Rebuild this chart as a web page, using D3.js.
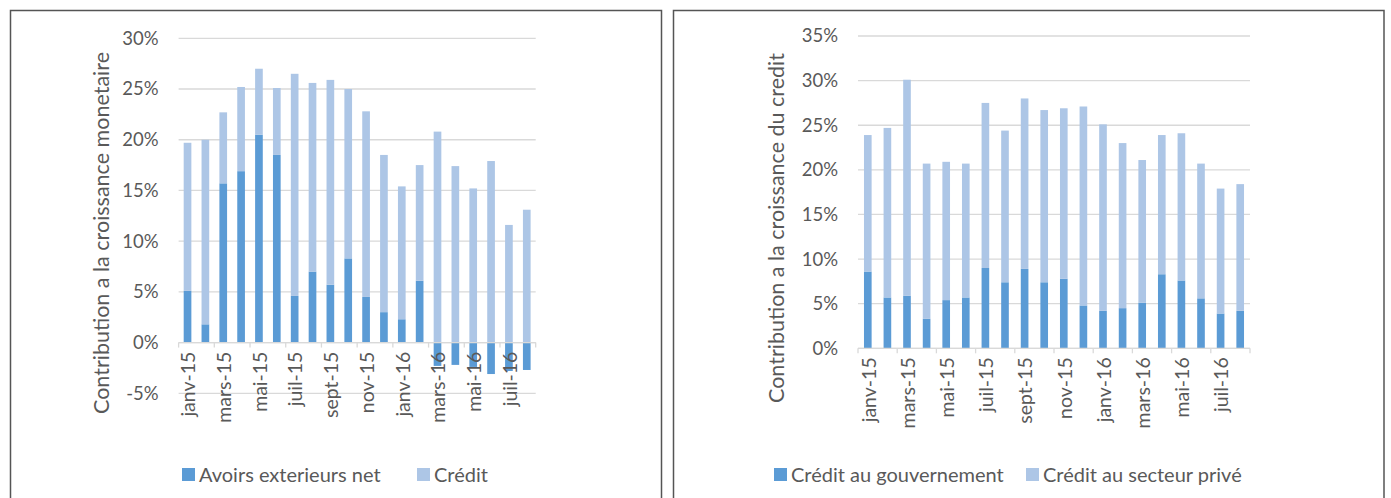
<!DOCTYPE html>
<html>
<head>
<meta charset="utf-8">
<script src="https://cdn.jsdelivr.net/npm/d3@7"></script>
<style>
  body { margin: 0; background: #fff; }
  svg { font-family: Lato, "Open Sans", sans-serif; }
</style>
</head>
<body>
<svg id="chart" width="1391" height="498"></svg>
<script>
// months shared by both charts
const months = ['janv-15', 'févr-15', 'mars-15', 'avr-15', 'mai-15', 'juin-15', 'juil-15', 'août-15',
  'sept-15', 'oct-15', 'nov-15', 'déc-15', 'janv-16', 'févr-16', 'mars-16', 'avr-16',
  'mai-16', 'juin-16', 'juil-16', 'août-16'];

// left chart: contribution to money growth (%)
const avoirsExt = [5.1, 1.8, 15.7, 16.9, 20.5, 18.5, 4.6, 7.0, 5.7, 8.3, 4.5, 3.0, 2.3, 6.1, -2.3, -2.2, -2.4, -3.1, -2.8, -2.7];
const creditM = [14.6, 18.2, 7.0, 8.3, 6.5, 6.6, 21.9, 18.6, 20.2, 16.7, 18.3, 15.5, 13.1, 11.4, 20.8, 17.4, 15.2, 17.9, 11.6, 13.1];
const leftTicks = [-5, 0, 5, 10, 15, 20, 25, 30];

// right chart: contribution to credit growth (%)
const creditGouv = [8.6, 5.7, 5.9, 3.3, 5.4, 5.7, 9.0, 7.4, 8.9, 7.4, 7.8, 4.8, 4.2, 4.5, 5.1, 8.3, 7.6, 5.6, 3.9, 4.2];
const creditPrive = [15.3, 19.0, 24.2, 17.4, 15.5, 15.0, 18.5, 17.0, 19.1, 19.3, 19.1, 22.3, 20.9, 18.5, 16.0, 15.6, 16.5, 15.1, 14.0, 14.2];
const rightTicks = [0, 5, 10, 15, 20, 25, 30, 35];

const dark = '#5b9bd5', light = '#adc6e6', textCol = '#595959', gridCol = '#d9d9d9';

const svg = d3.select('#chart');

// panel frames
svg.append('path').attr('d', 'M10.5,498 V10.5 H661.5 V498').attr('fill', 'none').attr('stroke', '#555').attr('stroke-width', 1.5);
svg.append('path').attr('d', 'M673.5,498 V10.5 H1384 V498').attr('fill', 'none').attr('stroke', '#555').attr('stroke-width', 1.5);

function drawChart(cfg) {
  const rows = months.map((m, i) => ({ month: m, a: cfg.s1[i], b: cfg.s2[i] }));
  const series = d3.stack().keys(['a', 'b']).offset(d3.stackOffsetDiverging)(rows);

  const x = d3.scaleBand().domain(months).range(cfg.xr).paddingInner(cfg.pad).paddingOuter(cfg.pad / 2);
  const y = d3.scaleLinear().domain(cfg.yd).range(cfg.yr);
  const g = svg.append('g');

  // gridlines
  g.selectAll('.grid').data(cfg.ticks).enter().append('line')
    .attr('x1', cfg.xr[0]).attr('x2', cfg.xr[1])
    .attr('y1', d => y(d)).attr('y2', d => y(d))
    .attr('stroke', gridCol).attr('stroke-width', 1.3);

  // y tick labels
  g.selectAll('.ylab').data(cfg.ticks).enter().append('text')
    .attr('x', cfg.xr[0] - 20).attr('y', d => y(d)).attr('dy', '0.35em')
    .attr('text-anchor', 'end').attr('fill', textCol).style('font-size', '18.5px')
    .text(d => d + '%');

  // bars
  const colors = [dark, light];
  series.forEach((s, k) => {
    g.selectAll('.bar' + k).data(s).enter().append('rect')
      .attr('x', d => x(d.data.month))
      .attr('width', x.bandwidth())
      .attr('y', d => y(Math.max(d[0], d[1])))
      .attr('height', d => Math.abs(y(d[0]) - y(d[1])))
      .attr('fill', colors[k]);
  });

  // x axis line and ticks every two months
  const y0 = y(0);
  g.append('line').attr('x1', cfg.xr[0]).attr('x2', cfg.xr[1]).attr('y1', y0).attr('y2', y0)
    .attr('stroke', gridCol).attr('stroke-width', 1.3);
  const step = x.step();
  const tickXs = d3.range(0, months.length + 1, 2).map(i => cfg.xr[0] + i * step);
  g.selectAll('.xtick').data(tickXs).enter().append('line')
    .attr('x1', d => d).attr('x2', d => d).attr('y1', y0).attr('y2', y0 + 5)
    .attr('stroke', gridCol).attr('stroke-width', 1.3);

  // month labels, every second one
  g.selectAll('.xlab').data(months.filter((m, i) => i % 2 === 0)).enter().append('text')
    .attr('transform', d => `translate(${x(d) + x.bandwidth() / 2 + 1},${y0 + 9}) rotate(-90)`)
    .attr('dy', '0.35em').attr('text-anchor', 'end')
    .attr('fill', textCol).style('font-size', '19.5px')
    .text(d => d);

  // axis title
  g.append('text')
    .attr('transform', `translate(${cfg.titleX},${cfg.titleY}) rotate(-90)`)
    .attr('text-anchor', 'middle').attr('fill', textCol).style('font-size', '21.5px')
    .text(cfg.title);

  // legend
  cfg.legend.forEach((l, k) => {
    g.append('rect').attr('x', l.x).attr('y', 468).attr('width', 13).attr('height', 13).attr('fill', colors[k]);
    g.append('text').attr('x', l.x + 17).attr('y', 475).attr('dy', '0.35em')
      .attr('fill', textCol).style('font-size', '20px').text(l.text);
  });
}

drawChart({
  s1: avoirsExt, s2: creditM, ticks: leftTicks,
  xr: [178.6, 535.7], pad: 0.57, yd: [-5, 30], yr: [393.3, 38.3],
  title: 'Contribution a la croissance monetaire', titleX: 109, titleY: 233,
  legend: [{ x: 182, text: 'Avoirs exterieurs net' }, { x: 417, text: 'Crédit' }]
});

drawChart({
  s1: creditGouv, s2: creditPrive, ticks: rightTicks,
  xr: [858, 1250], pad: 0.61, yd: [0, 35], yr: [348.3, 36],
  title: 'Contribution a la croissance du credit', titleX: 784, titleY: 228,
  legend: [{ x: 774, text: 'Crédit au gouvernement' }, { x: 1026, text: 'Crédit au secteur privé' }]
});
</script>
</body>
</html>
